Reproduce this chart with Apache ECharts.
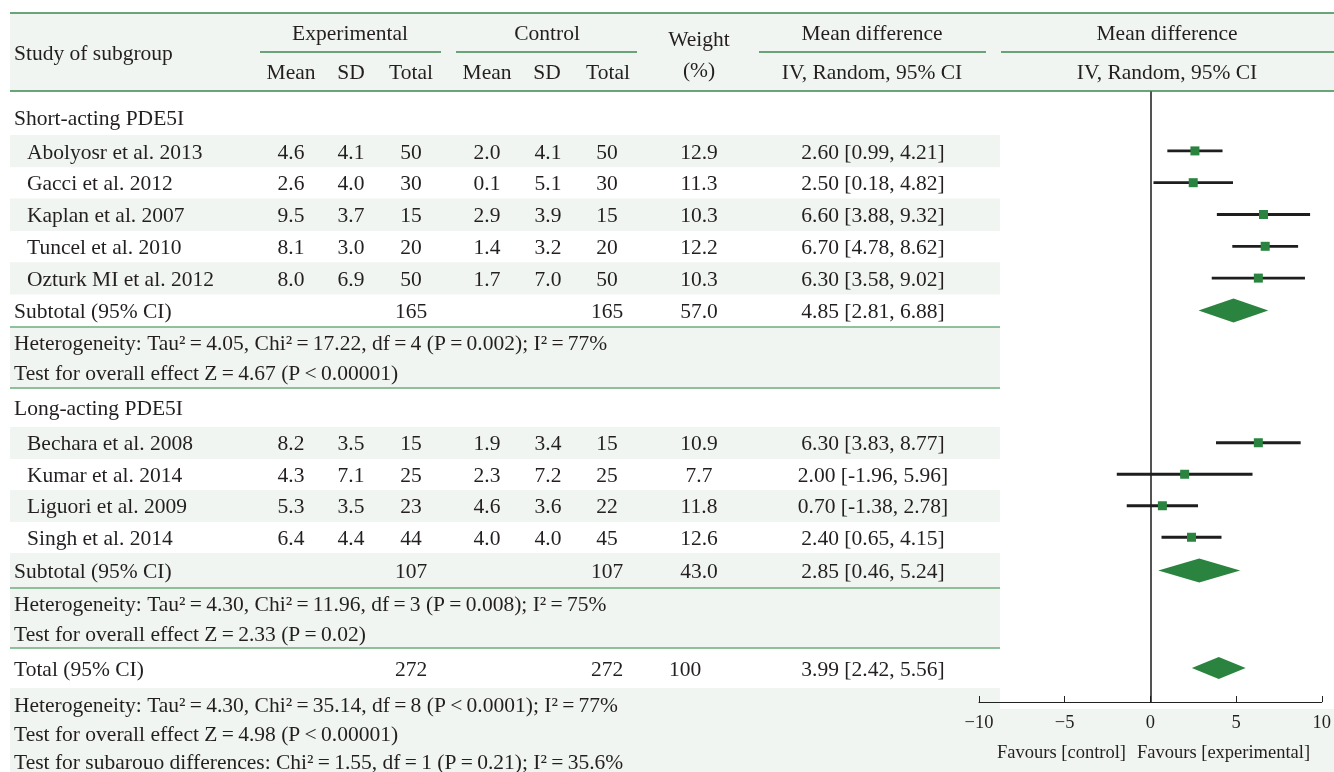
<!DOCTYPE html>
<html>
<head>
<meta charset="utf-8">
<script src="https://cdn.jsdelivr.net/npm/echarts@6/dist/echarts.min.js"></script>
<style>
  html, body { margin: 0; padding: 0; background: #ffffff; }
  #chart { width: 1334px; height: 772px; }
</style>
</head>
<body>
<div id="chart"></div>
<script>
// ---- Data ---------------------------------------------------------------
const groups     = ['Short-acting PDE5I', 'Long-acting PDE5I'];
const groupSize  = [5, 4];

const studies    = ['Abolyosr et al. 2013', 'Gacci et al. 2012', 'Kaplan et al. 2007',
                    'Tuncel et al. 2010', 'Ozturk MI et al. 2012',
                    'Bechara et al. 2008', 'Kumar et al. 2014', 'Liguori et al. 2009',
                    'Singh et al. 2014'];
const expMean    = [4.6, 2.6, 9.5, 8.1, 8.0, 8.2, 4.3, 5.3, 6.4];
const expSD      = [4.1, 4.0, 3.7, 3.0, 6.9, 3.5, 7.1, 3.5, 4.4];
const expTotal   = [50, 30, 15, 20, 50, 15, 25, 23, 44];
const ctrlMean   = [2.0, 0.1, 2.9, 1.4, 1.7, 1.9, 2.3, 4.6, 4.0];
const ctrlSD     = [4.1, 5.1, 3.9, 3.2, 7.0, 3.4, 7.2, 3.6, 4.0];
const ctrlTotal  = [50, 30, 15, 20, 50, 15, 25, 22, 45];
const weight     = [12.9, 11.3, 10.3, 12.2, 10.3, 10.9, 7.7, 11.8, 12.6];
const meanDiff   = [2.60, 2.50, 6.60, 6.70, 6.30, 6.30, 2.00, 0.70, 2.40];
const ciLow      = [0.99, 0.18, 3.88, 4.78, 3.58, 3.83, -1.96, -1.38, 0.65];
const ciHigh     = [4.21, 4.82, 9.32, 8.62, 9.02, 8.77, 5.96, 2.78, 4.15];

const subExpTotal  = [165, 107];
const subCtrlTotal = [165, 107];
const subWeight    = [57.0, 43.0];
const subMeanDiff  = [4.85, 2.85];
const subLow       = [2.81, 0.46];
const subHigh      = [6.88, 5.24];
const subHet  = ['Heterogeneity: Tau² = 4.05, Chi² = 17.22, df = 4 (P = 0.002); I² = 77%',
                 'Heterogeneity: Tau² = 4.30, Chi² = 11.96, df = 3 (P = 0.008); I² = 75%'];
const subTest = ['Test for overall effect Z = 4.67 (P < 0.00001)',
                 'Test for overall effect Z = 2.33 (P = 0.02)'];

const totExpTotal  = 272;
const totCtrlTotal = 272;
const totWeight    = 100;
const totMeanDiff  = 3.99;
const totLow       = 2.42;
const totHigh      = 5.56;
const totNotes = ['Heterogeneity: Tau² = 4.30, Chi² = 35.14, df = 8 (P < 0.0001); I² = 77%',
                  'Test for overall effect Z = 4.98 (P < 0.00001)',
                  'Test for subarouo differences: Chi² = 1.55, df = 1 (P = 0.21); I² = 35.6%'];

const xTicks = [-10, -5, 0, 5, 10];
const favourLeft  = 'Favours [control]';
const favourRight = 'Favours [experimental]';

// ---- Styling --------------------------------------------------------------
const FONT_FAMILY = '"Liberation Serif", "DejaVu Serif", serif';
const FS = 21.5;
const FONT = FS + 'px ' + FONT_FAMILY;
const SMALL_FONT = '18.5px ' + FONT_FAMILY;
const TEXT_DY = 2;            // optical nudge: serif glyphs sit high in the em box
const INK = '#231f20';
const SHADE = '#f1f5f1';
const GREEN = '#3b8750';
const GREEN_SOFT = '#6dac7c';
const MARK_GREEN = '#2a843f';
const TABLE_LEFT = 10, TABLE_RIGHT = 1000;
const HEAD_TOP = 13, HEAD_BOTTOM = 91;
const AXIS_Y = 702;

// column anchors (table body)
const COL = { name: 27, label: 14, eMean: 291, eSD: 351, eTot: 411,
              cMean: 487, cSD: 548, cTot: 607, wt: 699, ci: 873 };

const tight = s => s.replace(/ ([=<]) /g, '\u2009$1\u2009');
const fmtCI = (m, l, h) => m.toFixed(2) + ' [' + l.toFixed(2) + ', ' + h.toFixed(2) + ']';

// ---- Row layout (slot heights in px, shading, rules) ----------------------
const rows = [];
function addRow(kind, h, shade, extra) { rows.push(Object.assign({ kind, h, shade }, extra || {})); }
addRow('pad', 8, false);
let si = 0;
groups.forEach((g, gi) => {
  addRow('group', gi === 0 ? 36 : 39, false, { text: g });
  for (let k = 0; k < groupSize[gi]; k++) addRow('study', gi === 0 ? 31.8 : 31.5, k % 2 === 0, { idx: si++ });
  addRow('subtotal', gi === 0 ? 33 : 35, groupSize[gi] % 2 === 0, { gi });
  addRow('note', 30, true, { text: subHet[gi], ruleTop: true });
  addRow('note', gi === 0 ? 31 : 30, true, { text: subTest[gi], ruleBottom: true });
});
addRow('total', 40, false);
addRow('pad', 2, true);
addRow('note', 29, true, { text: totNotes[0] });
addRow('note', 28, true, { text: totNotes[1] });
addRow('note', 29, true, { text: totNotes[2] });

let acc = 0;
rows.forEach(r => { r.y0 = acc; r.y1 = acc + r.h; r.yc = acc + r.h / 2; acc += r.h; });

// ---- Table cells ----------------------------------------------------------
const cells = [];
function cell(x, y, text, align) { cells.push({ x, y, text: String(text), align: align || 'center' }); }
rows.forEach(r => {
  if (r.kind === 'group') cell(COL.label, r.yc, r.text, 'left');
  if (r.kind === 'note') cell(COL.label, r.yc, tight(r.text), 'left');
  if (r.kind === 'study') {
    const i = r.idx;
    cell(COL.name, r.yc, studies[i], 'left');
    cell(COL.eMean, r.yc, expMean[i].toFixed(1));
    cell(COL.eSD, r.yc, expSD[i].toFixed(1));
    cell(COL.eTot, r.yc, expTotal[i]);
    cell(COL.cMean, r.yc, ctrlMean[i].toFixed(1));
    cell(COL.cSD, r.yc, ctrlSD[i].toFixed(1));
    cell(COL.cTot, r.yc, ctrlTotal[i]);
    cell(COL.wt, r.yc, weight[i].toFixed(1));
    cell(COL.ci, r.yc, fmtCI(meanDiff[i], ciLow[i], ciHigh[i]));
  }
  if (r.kind === 'subtotal') {
    const g = r.gi;
    cell(COL.label, r.yc, 'Subtotal (95% CI)', 'left');
    cell(COL.eTot, r.yc, subExpTotal[g]);
    cell(COL.cTot, r.yc, subCtrlTotal[g]);
    cell(COL.wt, r.yc, subWeight[g].toFixed(1));
    cell(COL.ci, r.yc, fmtCI(subMeanDiff[g], subLow[g], subHigh[g]));
  }
  if (r.kind === 'total') {
    cell(COL.label, r.yc, 'Total (95% CI)', 'left');
    cell(COL.eTot, r.yc, totExpTotal);
    cell(COL.cTot, r.yc, totCtrlTotal);
    cell(COL.wt - 14, r.yc, totWeight);
    cell(COL.ci, r.yc, fmtCI(totMeanDiff, totLow, totHigh));
  }
});

// ---- Forest marks ---------------------------------------------------------
const studyRows = rows.filter(r => r.kind === 'study');
const studyMarks = studyRows.map(r => [meanDiff[r.idx], ciLow[r.idx], ciHigh[r.idx], r.yc]);
const diamondMarks = rows.filter(r => r.kind === 'subtotal')
  .map(r => [subMeanDiff[r.gi], subLow[r.gi], subHigh[r.gi], r.yc]);
rows.filter(r => r.kind === 'total')
  .forEach(r => diamondMarks.push([totMeanDiff, totLow, totHigh, r.yc]));

// ---- Header graphics -------------------------------------------------------
function htext(x, y, text, align, font) {
  return { type: 'text', x, y: y + TEXT_DY, silent: true, z: 100,
    style: { text, font: font || FONT, fill: INK, align: align || 'center', verticalAlign: 'middle',
             textAlign: align || 'center', textVerticalAlign: 'middle' } };
}
function hline(x1, x2, y, color, w) {
  return { type: 'line', silent: true, z: 90, shape: { x1, y1: y, x2, y2: y },
    style: { stroke: color, lineWidth: w || 1.5 } };
}
const graphics = [
  { type: 'rect', silent: true, z: -10, shape: { x: TABLE_LEFT, y: HEAD_TOP, width: 1334 - TABLE_LEFT, height: HEAD_BOTTOM - HEAD_TOP }, style: { fill: SHADE } },
  { type: 'rect', silent: true, z: -10, shape: { x: TABLE_RIGHT, y: 709, width: 1334 - TABLE_RIGHT, height: 63 }, style: { fill: SHADE } },
  hline(TABLE_LEFT, 1334, HEAD_TOP, GREEN, 1.5),
  hline(TABLE_LEFT, 1334, HEAD_BOTTOM, GREEN, 1.5),
  hline(260, 441, 52, GREEN, 1.5),
  hline(456, 637, 52, GREEN, 1.5),
  hline(759, 986, 52, GREEN, 1.5),
  hline(1001, 1334, 52, GREEN, 1.5),
  htext(14, 52, 'Study of subgroup', 'left'),
  htext(350, 32, 'Experimental'),
  htext(547, 32, 'Control'),
  htext(COL.eMean, 71, 'Mean'), htext(COL.eSD, 71, 'SD'), htext(COL.eTot, 71, 'Total'),
  htext(COL.cMean, 71, 'Mean'), htext(COL.cSD - 1, 71, 'SD'), htext(COL.cTot + 1, 71, 'Total'),
  htext(699, 38, 'Weight'), htext(699, 69, '(%)'),
  htext(872, 32, 'Mean difference'), htext(872, 71, 'IV, Random, 95% CI'),
  htext(1167, 32, 'Mean difference'), htext(1167, 71, 'IV, Random, 95% CI'),
  htext(1126, 751, favourLeft, 'right', SMALL_FONT),
  htext(1137, 751, favourRight, 'left', SMALL_FONT)
];

// ---- Chart ------------------------------------------------------------------
const chart = echarts.init(document.getElementById('chart'), null, { renderer: 'canvas' });
const tableHeight = 772 - HEAD_BOTTOM;
const forestHeight = AXIS_Y - HEAD_BOTTOM;

chart.setOption({
  animation: false,
  backgroundColor: '#ffffff',
  textStyle: { fontFamily: FONT_FAMILY },
  grid: [
    { left: 0, right: 0, top: HEAD_BOTTOM, height: tableHeight },
    { left: 979, right: 7, top: HEAD_BOTTOM, height: forestHeight }
  ],
  xAxis: [
    { gridIndex: 0, type: 'value', min: 0, max: 1334, show: false },
    { gridIndex: 1, type: 'value', min: -10, max: 10, interval: 5,
      axisLine: { show: true, onZero: false, lineStyle: { color: '#222', width: 1 } },
      axisTick: { show: true, inside: true, length: 6, lineStyle: { color: '#222', width: 1 } },
      axisLabel: { fontFamily: FONT_FAMILY, fontSize: 18.5, color: INK, margin: 12,
        formatter: v => (xTicks.indexOf(v) < 0 ? '' : (v < 0 ? '\u2212' + Math.abs(v) : String(v))) },
      splitLine: { show: false } }
  ],
  yAxis: [
    { gridIndex: 0, type: 'value', min: 0, max: tableHeight, inverse: true, show: false },
    { gridIndex: 1, type: 'value', min: 0, max: forestHeight, inverse: true, show: false }
  ],
  graphic: { elements: graphics },
  series: [
    { // shaded row bands
      type: 'custom', xAxisIndex: 0, yAxisIndex: 0, z: 0, silent: true, clip: false,
      data: rows.filter(r => r.shade).map(r => [r.y0, r.y1]),
      encode: { y: [0, 1] },
      renderItem: (params, api) => {
        const a = api.coord([TABLE_LEFT, api.value(0)]);
        const b = api.coord([TABLE_RIGHT, api.value(1)]);
        return { type: 'rect', shape: { x: a[0], y: a[1], width: b[0] - a[0], height: b[1] - a[1] + 0.5 },
                 style: { fill: SHADE } };
      }
    },
    { // section rules
      type: 'custom', xAxisIndex: 0, yAxisIndex: 0, z: 2, silent: true, clip: false,
      data: rows.filter(r => r.ruleTop || r.ruleBottom).map(r => [r.ruleTop ? r.y0 : r.y1]),
      encode: { y: 0 },
      renderItem: (params, api) => {
        const a = api.coord([TABLE_LEFT, api.value(0)]);
        const b = api.coord([TABLE_RIGHT, api.value(0)]);
        return { type: 'line', shape: { x1: a[0], y1: a[1], x2: b[0], y2: b[1] },
                 style: { stroke: GREEN_SOFT, lineWidth: 1.5 } };
      }
    },
    { // table text
      type: 'custom', xAxisIndex: 0, yAxisIndex: 0, z: 5, silent: true, clip: false,
      data: cells.map(c => [c.x, c.y]),
      renderItem: (params, api) => {
        const c = cells[params.dataIndex];
        const p = api.coord([api.value(0), api.value(1)]);
        return { type: 'text', x: p[0], y: p[1] + TEXT_DY,
                 style: { text: c.text, font: FONT, fill: INK, align: c.align, verticalAlign: 'middle',
                          textAlign: c.align, textVerticalAlign: 'middle' } };
      }
    },
    { // study estimates with confidence intervals
      type: 'custom', xAxisIndex: 1, yAxisIndex: 1, z: 6, silent: true, clip: false,
      data: studyMarks,
      encode: { x: [0, 1, 2], y: 3 },
      renderItem: (params, api) => {
        const y = api.value(3);
        const lo = api.coord([api.value(1), y]);
        const hi = api.coord([api.value(2), y]);
        const m = api.coord([api.value(0), y]);
        const s = 9;
        return { type: 'group', children: [
          { type: 'line', shape: { x1: lo[0], y1: lo[1], x2: hi[0], y2: hi[1] },
            style: { stroke: '#1e1e1e', lineWidth: 2.8 } },
          { type: 'rect', shape: { x: m[0] - s / 2, y: m[1] - s / 2, width: s, height: s },
            style: { fill: MARK_GREEN } }
        ] };
      },
      markLine: {
        silent: true, symbol: 'none', animation: false,
        label: { show: false },
        lineStyle: { color: '#1a1a1a', width: 1.5, type: 'solid' },
        data: [{ xAxis: 0 }]
      }
    },
    { // pooled estimates (diamonds)
      type: 'custom', xAxisIndex: 1, yAxisIndex: 1, z: 6, silent: true, clip: false,
      data: diamondMarks,
      encode: { x: [0, 1, 2], y: 3 },
      renderItem: (params, api) => {
        const y = api.value(3);
        const lo = api.coord([api.value(1), y]);
        const hi = api.coord([api.value(2), y]);
        const m = api.coord([api.value(0), y]);
        const h = params.dataIndex === diamondMarks.length - 1 ? 11 : 12;
        return { type: 'polygon',
                 shape: { points: [[lo[0], lo[1]], [m[0], m[1] - h], [hi[0], hi[1]], [m[0], m[1] + h]] },
                 style: { fill: MARK_GREEN } };
      }
    }
  ]
});
</script>
</body>
</html>
